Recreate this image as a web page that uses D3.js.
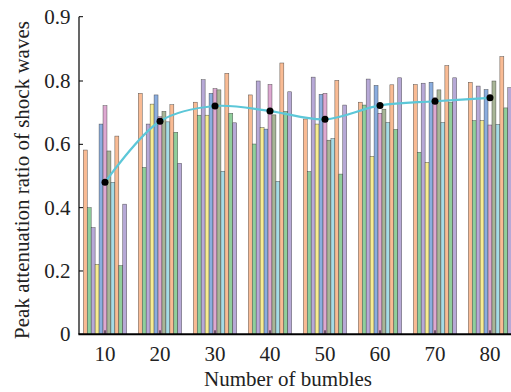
<!DOCTYPE html>
<html>
<head>
<meta charset="utf-8">
<script src="https://cdn.jsdelivr.net/npm/d3@7"></script>
<style>
    body { margin: 0; background: #fff; }
    svg { display: block; }
</style>
</head>
<body>
<div id="visual"></div>
<script>

// number of bumbles on the x axis
var bumbles = [10, 20, 30, 40, 50, 60, 70, 80];

// 11 bars in each group, one array per group
var group10 = [0.582, 0.400, 0.337, 0.221, 0.664, 0.722, 0.579, 0.480, 0.626, 0.217, 0.411];
var group20 = [0.761, 0.527, 0.664, 0.727, 0.756, 0.687, 0.704, 0.671, 0.725, 0.638, 0.540];
var group30 = [0.733, 0.692, 0.802, 0.692, 0.761, 0.776, 0.772, 0.515, 0.812, 0.698, 0.668];
var group40 = [0.756, 0.601, 0.800, 0.653, 0.648, 0.789, 0.693, 0.483, 0.828, 0.704, 0.766];
var group50 = [0.680, 0.514, 0.806, 0.664, 0.758, 0.761, 0.613, 0.618, 0.801, 0.506, 0.724];
var group60 = [0.733, 0.724, 0.803, 0.562, 0.786, 0.698, 0.711, 0.669, 0.788, 0.647, 0.805];
var group70 = [0.789, 0.575, 0.793, 0.543, 0.796, 0.747, 0.772, 0.669, 0.824, 0.732, 0.805];
var group80 = [0.796, 0.675, 0.784, 0.675, 0.773, 0.661, 0.800, 0.663, 0.838, 0.715, 0.779];

// average of each group (black dots)
var average = [0.480, 0.673, 0.721, 0.705, 0.679, 0.723, 0.736, 0.747];

var yTicks = [0, 0.2, 0.4, 0.6, 0.8, 0.9];
var yTickLabels = ["0", "0.2", "0.4", "0.6", "0.8", "0.9"];

var barColors = ["#f9bb94", "#90cf9c", "#b7a9d7", "#f6ec92", "#8aaddf", "#dea8d1",
    "#a8b597", "#a5dbe6", "#f9bb94", "#90cf9c", "#b7a9d7"];

function chart() {

    var w = 511, h = 392;
    var groups = [group10, group20, group30, group40, group50, group60, group70, group80];

    var svg = d3.select("#visual").append("svg").attr("width", w).attr("height", h);

    var xScale = d3.scaleLinear()
        .domain([10, 80])
        .range([105, 490]);

    // the axis in the figure is not even: 0.8 to 0.9 takes the room of 0.2
    var yScale = d3.scaleLinear()
        .domain([0, 0.8, 0.9])
        .range([334.3, 81, 16.7]);

    var inner = d3.scaleBand()
        .domain(d3.range(11))
        .range([-21.7, 21.7])
        .paddingInner(0);

    // Draw bars
    var g = svg.selectAll("g.group")
        .data(groups)
        .enter()
        .append("g")
        .attr("class", "group")
        .attr("transform", function (d, i) {
            return "translate(" + xScale(bumbles[i]) + ",0)";
        });

    g.selectAll("rect")
        .data(function (d) { return d; })
        .enter()
        .append("rect")
        .attr("x", function (d, i) { return inner(i); })
        .attr("y", function (d) { return yScale(d); })
        .attr("width", inner.bandwidth())
        .attr("height", function (d) { return yScale(0) - yScale(d); })
        .style("fill", function (d, i) { return barColors[i]; })
        .style("stroke", "#333")
        .style("stroke-width", 0.5)
        .style("stroke-opacity", 0.8);

    // Axes
    svg.append("line")
        .attr("x1", 79).attr("x2", 79)
        .attr("y1", yScale(0.9)).attr("y2", yScale(0))
        .attr("stroke", "#000").attr("stroke-width", 1.2);

    svg.append("line")
        .attr("x1", 78.4).attr("x2", w)
        .attr("y1", yScale(0)).attr("y2", yScale(0))
        .attr("stroke", "#000").attr("stroke-width", 2);

    svg.selectAll(".ytick")
        .data(yTicks)
        .enter()
        .append("line")
        .attr("class", "ytick")
        .attr("x1", 79).attr("x2", 83)
        .attr("y1", function (d) { return yScale(d); })
        .attr("y2", function (d) { return yScale(d); })
        .attr("stroke", "#000").attr("stroke-width", 1);

    svg.selectAll(".ylabel")
        .data(yTicks)
        .enter()
        .append("text")
        .attr("class", "ylabel")
        .attr("x", 70.5)
        .attr("y", function (d) { return yScale(d) + 7; })
        .attr("text-anchor", "end")
        .text(function (d, i) { return yTickLabels[i]; })
        .attr("font-family", "Liberation Serif")
        .attr("font-size", "21px")
        .attr("fill", "#222");

    svg.selectAll(".xtick")
        .data(bumbles)
        .enter()
        .append("line")
        .attr("class", "xtick")
        .attr("x1", function (d) { return xScale(d); })
        .attr("x2", function (d) { return xScale(d); })
        .attr("y1", yScale(0)).attr("y2", yScale(0) - 4)
        .attr("stroke", "#000").attr("stroke-width", 1);

    svg.selectAll(".xlabel")
        .data(bumbles)
        .enter()
        .append("text")
        .attr("class", "xlabel")
        .attr("x", function (d) { return xScale(d); })
        .attr("y", 361)
        .attr("text-anchor", "middle")
        .text(function (d) { return d; })
        .attr("font-family", "Liberation Serif")
        .attr("font-size", "21px")
        .attr("fill", "#222");

    svg.append("text")
        .attr("x", 288)
        .attr("y", 386)
        .attr("text-anchor", "middle")
        .text("Number of bumbles")
        .attr("font-family", "Liberation Serif")
        .attr("font-size", "21px")
        .attr("fill", "#222");

    svg.append("text")
        .attr("transform", "translate(29,180) rotate(-90)")
        .attr("text-anchor", "middle")
        .text("Peak attenuation ratio of shock waves")
        .attr("font-family", "Liberation Serif")
        .attr("font-size", "21px")
        .attr("fill", "#222");

    // Average line and dots
    var line = d3.line()
        .x(function (d, i) { return xScale(bumbles[i]); })
        .y(function (d) { return yScale(d); })
        .curve(d3.curveCatmullRom);

    svg.append("path")
        .datum(average)
        .attr("d", line)
        .attr("fill", "none")
        .attr("stroke", "#5cc7d8")
        .attr("stroke-width", 2.2);

    svg.selectAll(".dot")
        .data(average)
        .enter()
        .append("circle")
        .attr("class", "dot")
        .attr("cx", function (d, i) { return xScale(bumbles[i]); })
        .attr("cy", function (d) { return yScale(d); })
        .attr("r", 3.5)
        .style("fill", "#000");
}

window.onload = chart;
</script>
</body>
</html>
